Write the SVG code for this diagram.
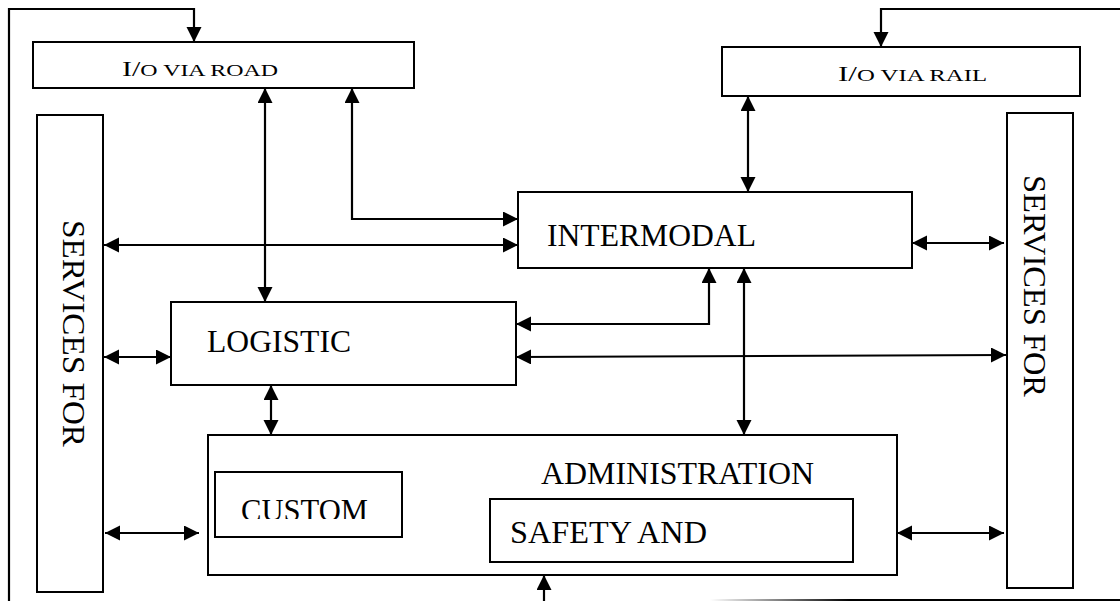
<svg xmlns="http://www.w3.org/2000/svg" width="1120" height="601" viewBox="0 0 1120 601">
<defs>
<style>
.box{fill:#fff;stroke:#000;stroke-width:2}
.ln{fill:none;stroke:#000;stroke-width:2.2}
.t{font-family:"Liberation Serif","Times New Roman",serif;fill:#000}
.big{font-size:31px}
.vert{font-size:31px}
.sc{font-size:17.5px}
.cap{font-size:22px}
</style>
<marker id="ah" markerUnits="userSpaceOnUse" markerWidth="16" markerHeight="16" refX="15" refY="7.5" orient="auto-start-reverse" viewBox="0 0 16 16">
<path d="M0,0 L15,7.5 L0,15 z" fill="#000"/>
</marker>
<linearGradient id="fade" x1="710" y1="0" x2="850" y2="0" gradientUnits="userSpaceOnUse">
<stop offset="0" stop-color="#fff"/>
<stop offset="1" stop-color="#000"/>
</linearGradient>
<clipPath id="clipCustom"><rect x="215" y="472" width="187" height="47"/></clipPath>
</defs>
<rect width="1120" height="601" fill="#fff"/>

<g id="connectors">
<path class="ln" d="M9,601 L9,9 L194,9 L194,42" marker-end="url(#ah)"/>
<path class="ln" d="M1120,9 L881,9 L881,47" marker-end="url(#ah)"/>
<line x1="710" y1="600" x2="1120" y2="600" stroke="url(#fade)" stroke-width="2.2"/>
<line class="ln" x1="265" y1="88" x2="265" y2="302" marker-start="url(#ah)" marker-end="url(#ah)"/>
<path class="ln" d="M352,88 L352,219 L518,219" marker-start="url(#ah)" marker-end="url(#ah)"/>
<line class="ln" x1="748" y1="96" x2="748" y2="192" marker-start="url(#ah)" marker-end="url(#ah)"/>
<line class="ln" x1="104" y1="245" x2="518" y2="245" marker-start="url(#ah)" marker-end="url(#ah)"/>
<line class="ln" x1="104" y1="357" x2="171" y2="357" marker-start="url(#ah)" marker-end="url(#ah)"/>
<line class="ln" x1="105" y1="533" x2="199" y2="533" marker-start="url(#ah)" marker-end="url(#ah)"/>
<line class="ln" x1="912" y1="243" x2="1004" y2="243" marker-start="url(#ah)" marker-end="url(#ah)"/>
<path class="ln" d="M709,268 L709,324 L516,324" marker-start="url(#ah)" marker-end="url(#ah)"/>
<line class="ln" x1="516" y1="357" x2="1006" y2="355" marker-start="url(#ah)" marker-end="url(#ah)"/>
<line class="ln" x1="744" y1="268" x2="744" y2="435" marker-start="url(#ah)" marker-end="url(#ah)"/>
<line class="ln" x1="271" y1="385" x2="271" y2="435" marker-start="url(#ah)" marker-end="url(#ah)"/>
<line class="ln" x1="897" y1="533" x2="1004" y2="533" marker-start="url(#ah)" marker-end="url(#ah)"/>
<line class="ln" x1="544" y1="601" x2="544" y2="575" marker-end="url(#ah)"/>
</g>

<g id="io-road">
<rect class="box" x="33" y="42" width="381" height="46"/>
<text class="t" x="122" y="76" textLength="156" lengthAdjust="spacingAndGlyphs"><tspan class="cap">I/</tspan><tspan class="sc">O VIA ROAD</tspan></text>
</g>

<g id="io-rail">
<rect class="box" x="722" y="47" width="358" height="49"/>
<text class="t" x="838" y="81" textLength="149" lengthAdjust="spacingAndGlyphs"><tspan class="cap">I/</tspan><tspan class="sc">O VIA RAIL</tspan></text>
</g>

<g id="services-left">
<rect class="box" x="37" y="115" width="66" height="477"/>
<text class="t vert" transform="translate(63,220) rotate(90)" textLength="227" lengthAdjust="spacingAndGlyphs">SERVICES FOR</text>
</g>

<g id="services-right">
<rect class="box" x="1007" y="113" width="66" height="475"/>
<text class="t vert" transform="translate(1024,175) rotate(90)" textLength="222" lengthAdjust="spacingAndGlyphs">SERVICES FOR</text>
</g>

<g id="intermodal">
<rect class="box" x="518" y="192" width="394" height="76"/>
<text class="t big" x="547" y="246" textLength="209" lengthAdjust="spacingAndGlyphs">INTERMODAL</text>
</g>

<g id="logistic">
<rect class="box" x="171" y="302" width="345" height="83"/>
<text class="t big" x="207" y="352" textLength="144" lengthAdjust="spacingAndGlyphs">LOGISTIC</text>
</g>

<g id="administration">
<rect class="box" x="208" y="435" width="689" height="140"/>
<text class="t big" x="541" y="484" textLength="273" lengthAdjust="spacingAndGlyphs">ADMINISTRATION</text>
</g>

<g id="custom">
<rect class="box" x="215" y="472" width="187" height="65"/>
<text class="t big" x="241" y="521" clip-path="url(#clipCustom)" textLength="127" lengthAdjust="spacingAndGlyphs">CUSTOM</text>
</g>

<g id="safety">
<rect class="box" x="490" y="499" width="363" height="63"/>
<text class="t big" x="510" y="543" textLength="197" lengthAdjust="spacingAndGlyphs">SAFETY AND</text>
</g>
</svg>
